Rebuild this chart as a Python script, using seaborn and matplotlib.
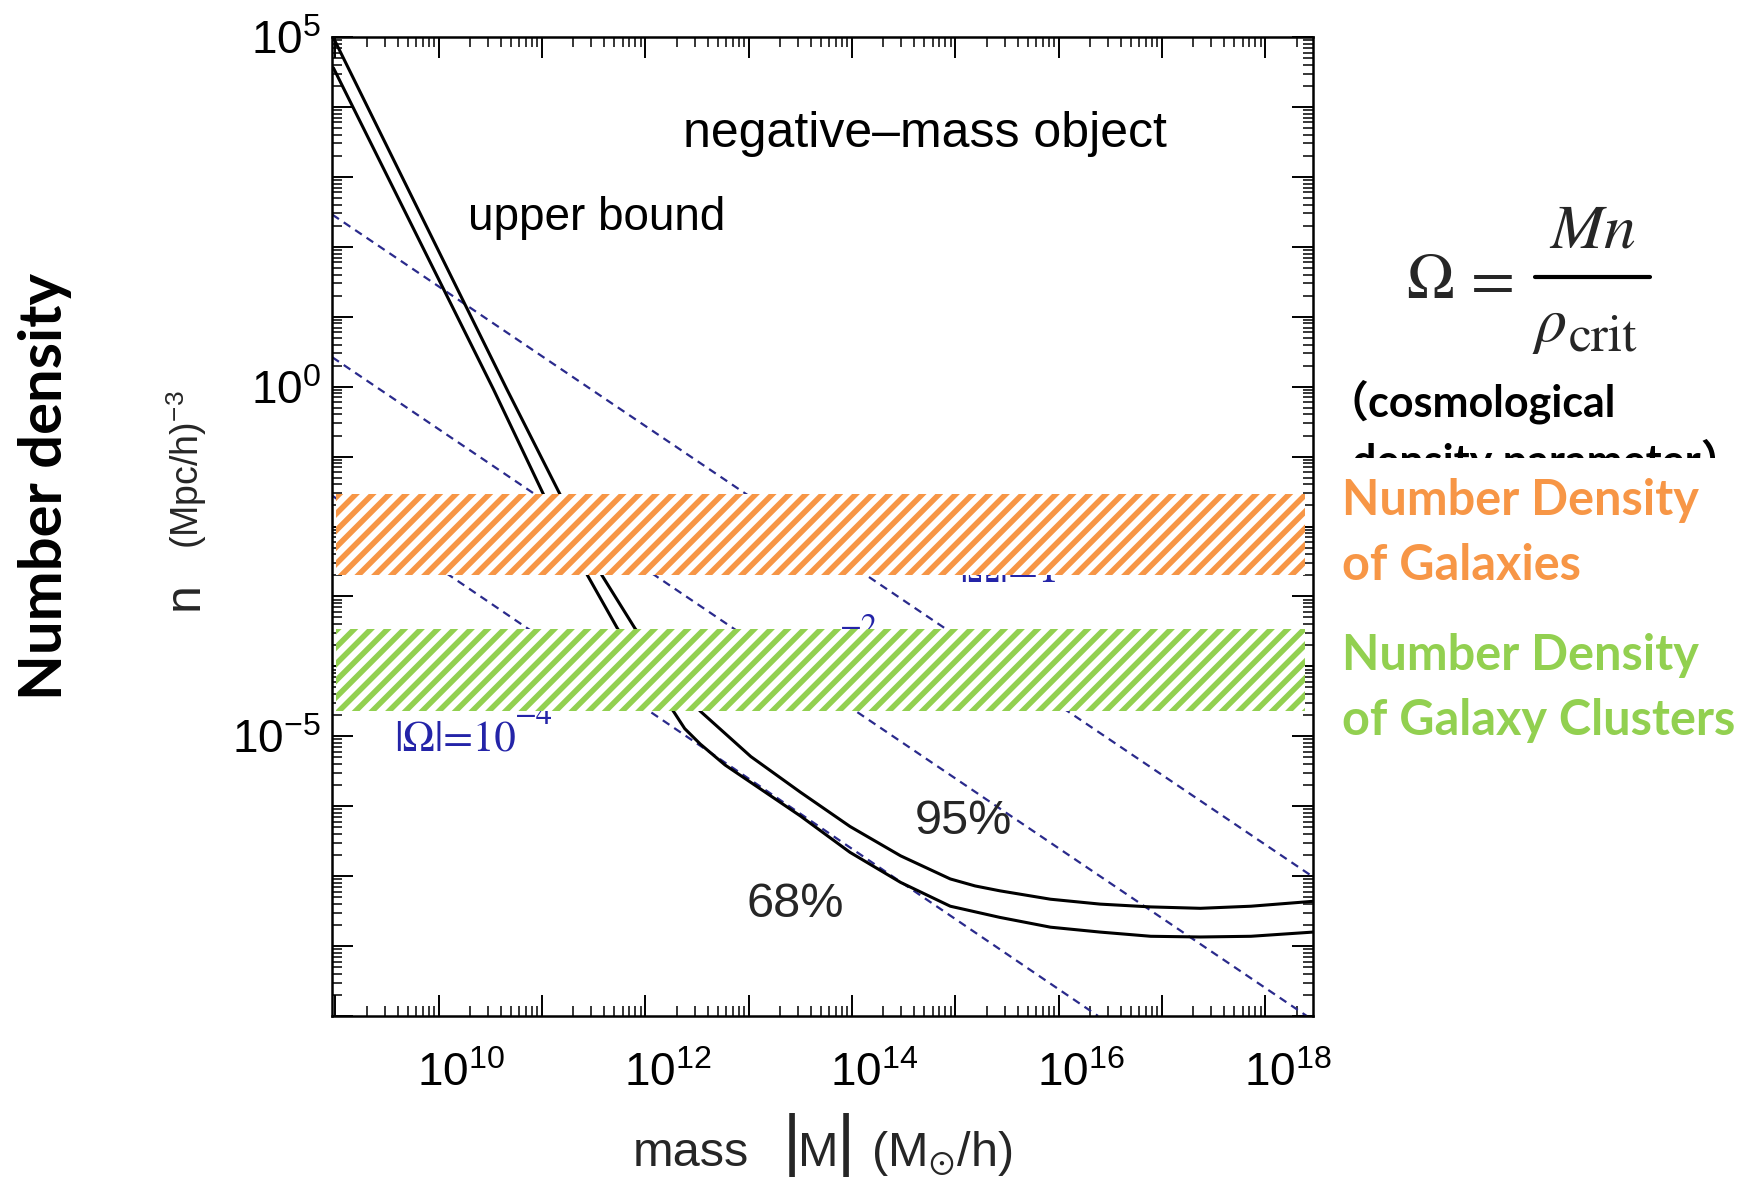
import numpy as np
import matplotlib
matplotlib.use("Agg")
import matplotlib.pyplot as plt
import seaborn as sns
import pandas as pd
from matplotlib.ticker import LogLocator, NullFormatter, FixedLocator, FixedFormatter
from matplotlib.transforms import ScaledTranslation, Bbox, TransformedBbox
from matplotlib.lines import Line2D

# ---------------- data (log10 values) ----------------
logM_95 = [8.98, 10.66, 11.17, 11.58, 11.90, 12.53, 13.02, 13.50, 13.98, 14.47,
           14.95, 15.19, 15.43, 15.92, 16.40, 16.89, 17.37, 17.86, 18.46]
logn_95 = [4.99, -0.04, -1.53, -2.70, -3.46, -4.64, -5.29, -5.80, -6.29, -6.71,
           -7.04, -7.14, -7.21, -7.33, -7.40, -7.44, -7.46, -7.43, -7.36]
logM_68 = [8.98, 10.53, 11.01, 11.44, 11.73, 12.27, 12.38, 12.53, 12.77, 13.02,
           13.50, 13.98, 14.47, 14.95, 15.19, 15.43, 15.92, 16.40, 16.89, 17.37,
           17.86, 18.46]
logn_68 = [4.56, -0.04, -1.53, -2.70, -3.46, -4.64, -4.89, -5.11, -5.41, -5.66,
           -6.14, -6.66, -7.09, -7.43, -7.51, -7.59, -7.73, -7.80, -7.86, -7.87,
           -7.86, -7.80]

# |Omega| = const reference lines (end points)
omega_names = ["1", "1e-2", "1e-4"]
omega_logM = [[8.97, 18.46], [8.97, 18.40], [8.97, 16.38]]
omega_logn = [[2.46, -7.01], [0.42, -9.00], [-1.56, -9.00]]

# hatched bands (number densities)
band_low = [-2.70, -4.64]
band_high = [-1.53, -3.46]
band_xlog = [9.01, 18.38]
band_colors = ["#F79646", "#92D050"]

x_major_exps = list(range(9, 19))
x_label_exps = [10, 12, 14, 16, 18]
y_major_exps = list(range(-9, 6))
y_label_exps = [5, 0, -5]

# ---------------- style ----------------
sns.set_theme(style="ticks")
plt.rcParams["font.family"] = ["Liberation Sans", "DejaVu Sans"]
plt.rcParams["mathtext.fontset"] = "stix"
plt.rcParams["hatch.linewidth"] = 4.0
plt.rcParams["axes.linewidth"] = 1.8
plt.rcParams["axes.edgecolor"] = "black"

W, H = 1740, 1180
fig = plt.figure(figsize=(W / 100, H / 100), dpi=100)
fig.patch.set_facecolor("white")


def fx(px):
    return px / W


def fy(py):
    return 1 - py / H


ax = fig.add_axes([fx(332), fy(1016), (1313 - 332) / W, (1016 - 37) / H])
ax.set_facecolor("white")

# curves
df = pd.DataFrame({
    "mass": np.power(10.0, logM_95 + logM_68),
    "n": np.power(10.0, logn_95 + logn_68),
    "curve": ["95%"] * len(logM_95) + ["68%"] * len(logM_68),
})
sns.lineplot(data=df, x="mass", y="n", hue="curve", palette=["black", "black"],
             estimator=None, sort=False, legend=False, lw=2.2, ax=ax, zorder=3)

dfo = pd.DataFrame({
    "mass": np.power(10.0, np.concatenate(omega_logM)),
    "n": np.power(10.0, np.concatenate(omega_logn)),
    "omega": np.repeat(omega_names, 2),
})
n_before = len(ax.lines)
sns.lineplot(data=dfo, x="mass", y="n", units="omega", color="#2a2a8c",
             estimator=None, sort=False, legend=False, lw=1.6, ax=ax, zorder=2)
for ln in ax.lines[n_before:]:
    ln.set_dashes((3.6, 2.6))
ax.set_xlabel("")
ax.set_ylabel("")

ax.set_xscale("log")
ax.set_yscale("log")
ax.set_xlim(10 ** 8.967, 10 ** 18.46)
ax.set_ylim(1e-9, 1e5)

# bands
for lo, hi, col in zip(band_low, band_high, band_colors):
    xs = np.power(10.0, band_xlog)
    ax.fill_between(xs, 10.0 ** lo, 10.0 ** hi, facecolor="white", edgecolor=col,
                    hatch="//", linewidth=0, zorder=6)

# ticks
ax.xaxis.set_major_locator(FixedLocator([10.0 ** k for k in x_major_exps]))
ax.xaxis.set_major_formatter(FixedFormatter(
    [r"$\mathdefault{10^{%d}}$" % k if k in x_label_exps else "" for k in x_major_exps]))
ax.yaxis.set_major_locator(FixedLocator([10.0 ** k for k in y_major_exps]))
ax.yaxis.set_major_formatter(FixedFormatter(
    [r"$\mathdefault{10^{%d}}$" % k if k in y_label_exps else "" for k in y_major_exps]))
for axis in (ax.xaxis, ax.yaxis):
    axis.set_minor_locator(LogLocator(base=10, subs=np.arange(2, 10), numticks=200))
    axis.set_minor_formatter(NullFormatter())
ax.tick_params(which="both", direction="in", top=True, right=True, colors="black")
ax.tick_params(which="major", length=15, width=1.4, labelsize=33)
ax.tick_params(which="minor", length=7, width=1.1)
ax.tick_params(axis="x", which="major", pad=26)
ax.tick_params(axis="y", which="major", pad=8)
shift = ScaledTranslation(0.22, 0, fig.dpi_scale_trans)
for lbl in ax.get_xticklabels():
    lbl.set_transform(lbl.get_transform() + shift)
for sp in ax.spines.values():
    sp.set_linewidth(1.8)
    sp.set_color("black")
    sp.set_zorder(8)

# x axis label, built from pieces (tall bars around M)
fig.text(fx(633), fy(1166), "mass", fontsize=35, ha="left", va="baseline")
fig.text(fx(792), fy(1163), "|", fontsize=50, ha="center", va="baseline")
fig.text(fx(818), fy(1166), "M", fontsize=35, ha="center", va="baseline")
fig.text(fx(846), fy(1163), "|", fontsize=50, ha="center", va="baseline")
fig.text(fx(871), fy(1166), r"(M$_{\odot}$/h)", fontsize=35, ha="left", va="baseline")

# y axis label
fig.text(fx(185), fy(596), "n", fontsize=36, rotation=90, ha="center", va="center")
fig.text(fx(187), fy(470), r"(Mpc/h)$^{\mathdefault{-3}}$", rotation=90, fontsize=27,
         ha="center", va="center")

# in-plot annotations
ax.text(10 ** 14.70, 10 ** 3.43, "negative\u2013mass object", fontsize=36, ha="center",
        va="baseline", color="black", zorder=7)
ax.text(10 ** 10.28, 10 ** 2.24, "upper bound", fontsize=33, ha="left",
        va="baseline", color="black", zorder=7)
ax.text(10 ** 14.61, 10 ** -6.40, "95%", fontsize=35, ha="left", va="baseline", zorder=7)
ax.text(10 ** 12.98, 10 ** -7.59, "68%", fontsize=35, ha="left", va="baseline", zorder=7)

blue = "#2424a8"
omega_base = [(15.52, -2.79, "center", "|Ω|=1"),
              (12.78, -4.00, "left", "|Ω|=10"),
              (9.57, -5.21, "left", "|Ω|=10")]
for lx, ly, ha, s in omega_base:
    ax.text(10 ** lx, 10 ** ly, s, fontsize=31, family="STIXGeneral", color=blue,
            ha=ha, va="baseline", zorder=4,
            bbox=dict(facecolor="white", edgecolor="none", pad=3))
omega_sup = [(13.88, -3.57, "\u22122"), (10.74, -4.83, "\u22124")]
for lx, ly, s in omega_sup:
    ax.text(10 ** lx, 10 ** ly, s, fontsize=23, family="STIXGeneral", color=blue,
            ha="left", va="baseline", zorder=4)

# texts outside the axes
fig.text(fx(45), fy(487), "Number density", rotation=90, fontsize=43, fontweight="bold",
         family=["Lato", "DejaVu Sans"], ha="center", va="center", color="black")

# Omega = Mn / rho_crit
fig.text(fx(1430), fy(298), r"$\Omega$", fontsize=46, ha="center", va="baseline")
fig.text(fx(1487), fy(298), r"$=$", fontsize=46, ha="center", va="baseline")
fig.text(fx(1592), fy(248), r"$Mn$", fontsize=46, ha="center", va="baseline")
fig.add_artist(Line2D([fx(1535), fx(1650)], [fy(277), fy(277)], color="black",
                      lw=3.0, transform=fig.transFigure))
fig.text(fx(1532), fy(341), r"$\rho$", fontsize=46, ha="left", va="baseline")
fig.text(fx(1569), fy(351), "crit", fontsize=37, family="STIXGeneral", ha="left",
         va="baseline")

cjk = ["Lato", "Noto Sans CJK JP", "DejaVu Sans"]
fig.text(fx(1325), fy(417), "（cosmological", fontsize=31, fontweight="bold",
         family=cjk, ha="left", va="baseline", color="black")
t2 = fig.text(fx(1352), fy(476), "density parameter）", fontsize=31, fontweight="bold",
              family=cjk, ha="left", va="baseline", color="black")
t2.set_clip_box(TransformedBbox(Bbox.from_extents(fx(1300), fy(458), fx(1740), fy(380)),
                                fig.transFigure))

fig.text(fx(1342), fy(515), "Number Density", fontsize=35, fontweight="bold",
         family=cjk, ha="left", va="baseline", color=band_colors[0])
fig.text(fx(1342), fy(580), "of Galaxies", fontsize=35, fontweight="bold",
         family=cjk, ha="left", va="baseline", color=band_colors[0])
fig.text(fx(1342), fy(670), "Number Density", fontsize=35, fontweight="bold",
         family=cjk, ha="left", va="baseline", color=band_colors[1])
fig.text(fx(1342), fy(735), "of Galaxy Clusters", fontsize=35, fontweight="bold",
         family=cjk, ha="left", va="baseline", color=band_colors[1])

fig.savefig("out.png", dpi=100, facecolor="white")
